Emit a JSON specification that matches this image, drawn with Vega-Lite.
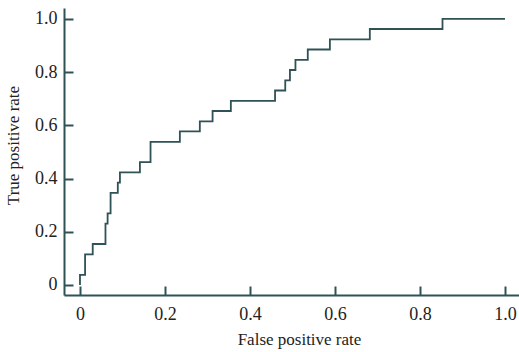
{
  "$schema": "https://vega.github.io/schema/vega-lite/v6.json",
  "autosize": "none",
  "width": 455,
  "height": 287,
  "padding": {"left": 64, "top": 8, "right": 0, "bottom": 57},
  "background": "white",
  "config": {
    "view": {"stroke": null},
    "font": "Liberation Serif",
    "axis": {
      "grid": false,
      "domainColor": "#2e5256",
      "domainWidth": 2,
      "tickColor": "#2e5256",
      "tickWidth": 2,
      "tickSize": -9,
      "labelFont": "Liberation Serif",
      "labelFontSize": 18,
      "labelColor": "#222222",
      "titleFont": "Liberation Serif",
      "titleFontSize": 17,
      "titleFontWeight": "normal",
      "titleColor": "#222222"
    }
  },
  "data": {
    "values": [
      {"fpr": 0, "tpr": 0},
      {"fpr": 0, "tpr": 0.038},
      {"fpr": 0.012, "tpr": 0.115},
      {"fpr": 0.03, "tpr": 0.154},
      {"fpr": 0.06, "tpr": 0.231},
      {"fpr": 0.065, "tpr": 0.269},
      {"fpr": 0.072, "tpr": 0.346},
      {"fpr": 0.089, "tpr": 0.385},
      {"fpr": 0.094, "tpr": 0.423},
      {"fpr": 0.141, "tpr": 0.462},
      {"fpr": 0.166, "tpr": 0.538},
      {"fpr": 0.235, "tpr": 0.577},
      {"fpr": 0.282, "tpr": 0.615},
      {"fpr": 0.312, "tpr": 0.654},
      {"fpr": 0.355, "tpr": 0.692},
      {"fpr": 0.459, "tpr": 0.731},
      {"fpr": 0.483, "tpr": 0.769},
      {"fpr": 0.494, "tpr": 0.808},
      {"fpr": 0.507, "tpr": 0.846},
      {"fpr": 0.536, "tpr": 0.885},
      {"fpr": 0.588, "tpr": 0.923},
      {"fpr": 0.682, "tpr": 0.962},
      {"fpr": 0.853, "tpr": 1.0},
      {"fpr": 1.0, "tpr": 1.0}
    ]
  },
  "mark": {"type": "line", "interpolate": "step-after", "color": "#2e5256", "strokeWidth": 1.8},
  "encoding": {
    "x": {
      "field": "fpr", "type": "quantitative",
      "scale": {"domain": [-0.0376, 1.033], "nice": false, "zero": false},
      "axis": {
        "values": [0, 0.2, 0.4, 0.6, 0.8, 1.0],
        "labelExpr": "datum.value == 0 ? '0' : format(datum.value, '.1f')",
        "title": "False positive rate",
        "labelPadding": 19,
        "titlePadding": 8,
        "titleX": 235
      }
    },
    "y": {
      "field": "tpr", "type": "quantitative",
      "scale": {"domain": [-0.0376, 1.041], "nice": false, "zero": false},
      "axis": {
        "values": [0, 0.2, 0.4, 0.6, 0.8, 1.0],
        "labelExpr": "datum.value == 0 ? '0' : format(datum.value, '.1f')",
        "title": "True positive rate",
        "labelPadding": 16,
        "titlePadding": 12,
        "titleY": 137
      }
    }
  }
}
